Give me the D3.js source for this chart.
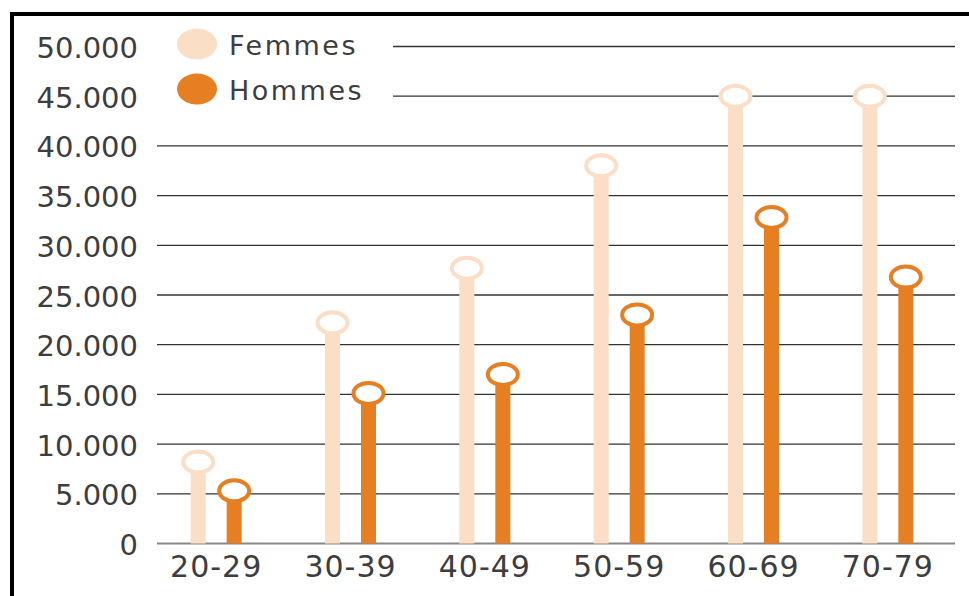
<!DOCTYPE html>
<html><head><meta charset="utf-8">
<script src="https://cdn.jsdelivr.net/npm/d3@7"></script>
<style>html,body{margin:0;padding:0;background:#fff;}svg{display:block;}</style>
</head><body>
<svg id="c" width="969" height="596"></svg>
<script>
const categories = ["20-29","30-39","40-49","50-59","60-69","70-79"];
const femmes = [8200, 22200, 27700, 38000, 45000, 45000];
const hommes = [5300, 15100, 17000, 23000, 32800, 26800];
const yTicks = [0,5000,10000,15000,20000,25000,30000,35000,40000,45000,50000];
const tickLabels = ["0","5.000","10.000","15.000","20.000","25.000","30.000","35.000","40.000","45.000","50.000"];
const seriesNames = ["Femmes","Hommes"];
const colors = ["#FBDEC6","#E67E22"];

const svg = d3.select("#c");
const x = d3.scaleBand().domain(categories).range([149,955]).padding(0);
const y = d3.scaleLinear().domain([0,50000]).range([543.5,46.5]);

// frame
svg.append("path").attr("d","M12,596 L12,14 L969,14").attr("fill","none").attr("stroke","#000").attr("stroke-width",4);

// gridlines
svg.append("g").selectAll("line").data(yTicks.filter(d=>d>0)).join("line")
  .attr("x1", d=> d>=45000 ? 393 : 157).attr("x2",955)
  .attr("y1", d=>y(d)).attr("y2", d=>y(d))
  .attr("stroke","#333").attr("stroke-width",1.3);
// baseline
svg.append("line").attr("x1",157).attr("x2",955).attr("y1",y(0)).attr("y2",y(0))
  .attr("stroke","#888").attr("stroke-width",2);

// y tick labels
svg.append("g").selectAll("text").data(yTicks).join("text")
  .attr("x",138).attr("y",d=>y(d)+11.5)
  .attr("text-anchor","end")
  .attr("font-family","DejaVu Sans").attr("font-size",29).attr("fill","#3d3d3d")
  .text((d,i)=>tickLabels[i]);

// x labels
svg.append("g").selectAll("text").data(categories).join("text")
  .attr("x",d=>x(d)+x.bandwidth()/2).attr("y",577)
  .attr("text-anchor","middle")
  .attr("font-family","DejaVu Sans").attr("font-size",30).attr("fill","#3d3d3d")
  .attr("letter-spacing",1)
  .text(d=>d);

const series = [femmes, hommes];
const offs = [-18, 18];
series.forEach((vals, s) => {
  const g = svg.append("g");
  g.selectAll("rect").data(vals).join("rect")
    .attr("x",(d,i)=>x(categories[i])+x.bandwidth()/2+offs[s]-7.5)
    .attr("width",15)
    .attr("y",d=>y(d))
    .attr("height",d=>y(0)-y(d))
    .attr("fill",colors[s]);
  g.selectAll("ellipse").data(vals).join("ellipse")
    .attr("cx",(d,i)=>x(categories[i])+x.bandwidth()/2+offs[s])
    .attr("cy",d=>y(d))
    .attr("rx",15).attr("ry",10.5)
    .attr("fill","#fff").attr("stroke",colors[s]).attr("stroke-width",4);
});

// legend
const lg = svg.append("g");
seriesNames.forEach((n,i)=>{
  lg.append("ellipse").attr("cx",197).attr("cy",44+i*45).attr("rx",20).attr("ry",15.5).attr("fill",colors[i]);
  lg.append("text").attr("x",229).attr("y",55+i*45)
    .attr("font-family","DejaVu Sans").attr("font-size",27).attr("fill","#3d3d3d")
    .attr("letter-spacing",2.5)
    .text(n);
});
</script>
</body></html>
